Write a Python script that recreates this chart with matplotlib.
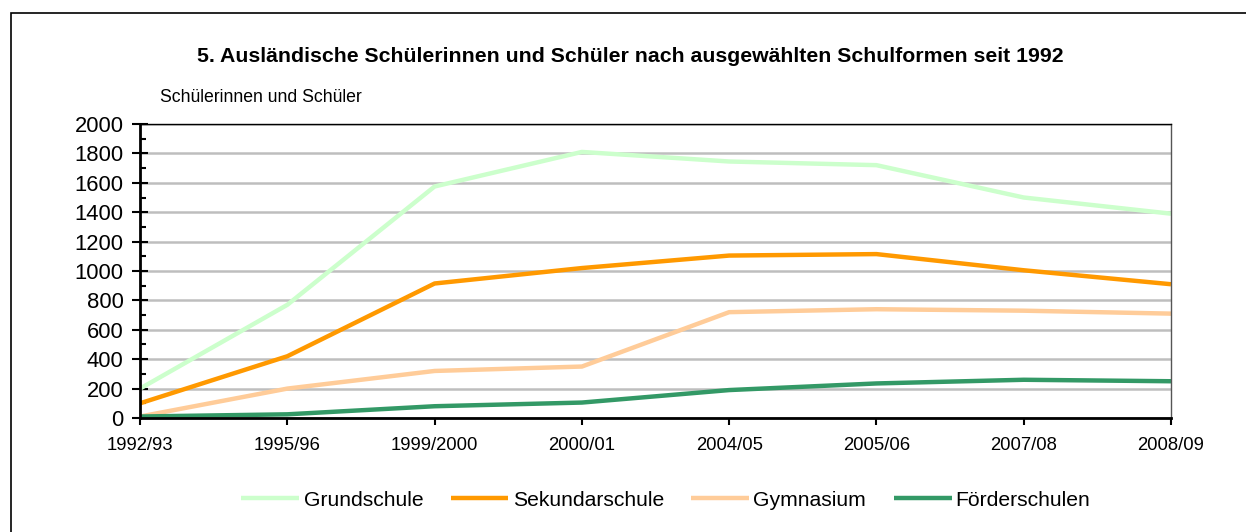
import matplotlib.pyplot as plt
from matplotlib.patches import Rectangle
from matplotlib.ticker import MultipleLocator

plt.rcParams['font.family'] = ['Liberation Sans', 'DejaVu Sans']

jahre = ["1992/93", "1995/96", "1999/2000", "2000/01", "2004/05", "2005/06", "2007/08", "2008/09"]
grundschule = [200, 770, 1575, 1810, 1745, 1720, 1500, 1390]
sekundarschule = [100, 420, 915, 1020, 1105, 1115, 1005, 910]
gymnasium = [10, 200, 320, 350, 720, 740, 730, 710]
foerderschulen = [10, 25, 80, 105, 190, 235, 260, 250]

serien = [
    ("Grundschule", grundschule, "#CCFFCC"),
    ("Sekundarschule", sekundarschule, "#FF9900"),
    ("Gymnasium", gymnasium, "#FFCC99"),
    ("Förderschulen", foerderschulen, "#339966"),
]

fig = plt.figure(figsize=(12.46, 5.32), dpi=100)
ax = fig.add_axes([0.1124, 0.2143, 0.8274, 0.5526])

x = list(range(len(jahre)))
for name, werte, farbe in serien:
    ax.plot(x, werte, color=farbe, lw=3.2, label=name, solid_capstyle='butt')

ax.set_xlim(0, len(jahre) - 1)
ax.set_ylim(0, 2000)
ax.set_xticks(x)
ax.set_xticklabels(jahre, fontsize=13.3)
ax.yaxis.set_major_locator(MultipleLocator(200))
ax.yaxis.set_minor_locator(MultipleLocator(100))
ax.tick_params(axis='y', which='major', direction='inout', length=12, width=1.5,
               labelsize=15.8, pad=6)
ax.tick_params(axis='y', which='minor', direction='in', length=4, width=1.5)
ax.tick_params(axis='x', which='major', direction='out', length=5, width=1.5, pad=9)
ax.grid(axis='y', color='#BEBEBE', lw=1.8)
ax.set_axisbelow(True)

ax.spines['left'].set_linewidth(2)
ax.spines['bottom'].set_linewidth(2)
ax.spines['top'].set_linewidth(1)
ax.spines['right'].set_color('#555555')
ax.spines['right'].set_linewidth(1)

fig.text(0.5056, 0.893, "5. Ausländische Schülerinnen und Schüler nach ausgewählten Schulformen seit 1992",
         ha='center', va='center', fontsize=15.3, fontweight='bold')
fig.text(0.1284, 0.816, "Schülerinnen und Schüler", ha='left', va='center', fontsize=12.7)

fig.legend(loc='center', bbox_to_anchor=(0.5345, 0.06), ncol=4, frameon=False,
           fontsize=15.2, handlelength=2.74, columnspacing=1.3, handletextpad=0.2)

fig.patches.append(Rectangle((11 / 1246, -0.1), 1.2, 1.1 - 13 / 532, transform=fig.transFigure,
                             fill=False, edgecolor='black', lw=1.2))

fig.savefig("out.png", dpi=100)
